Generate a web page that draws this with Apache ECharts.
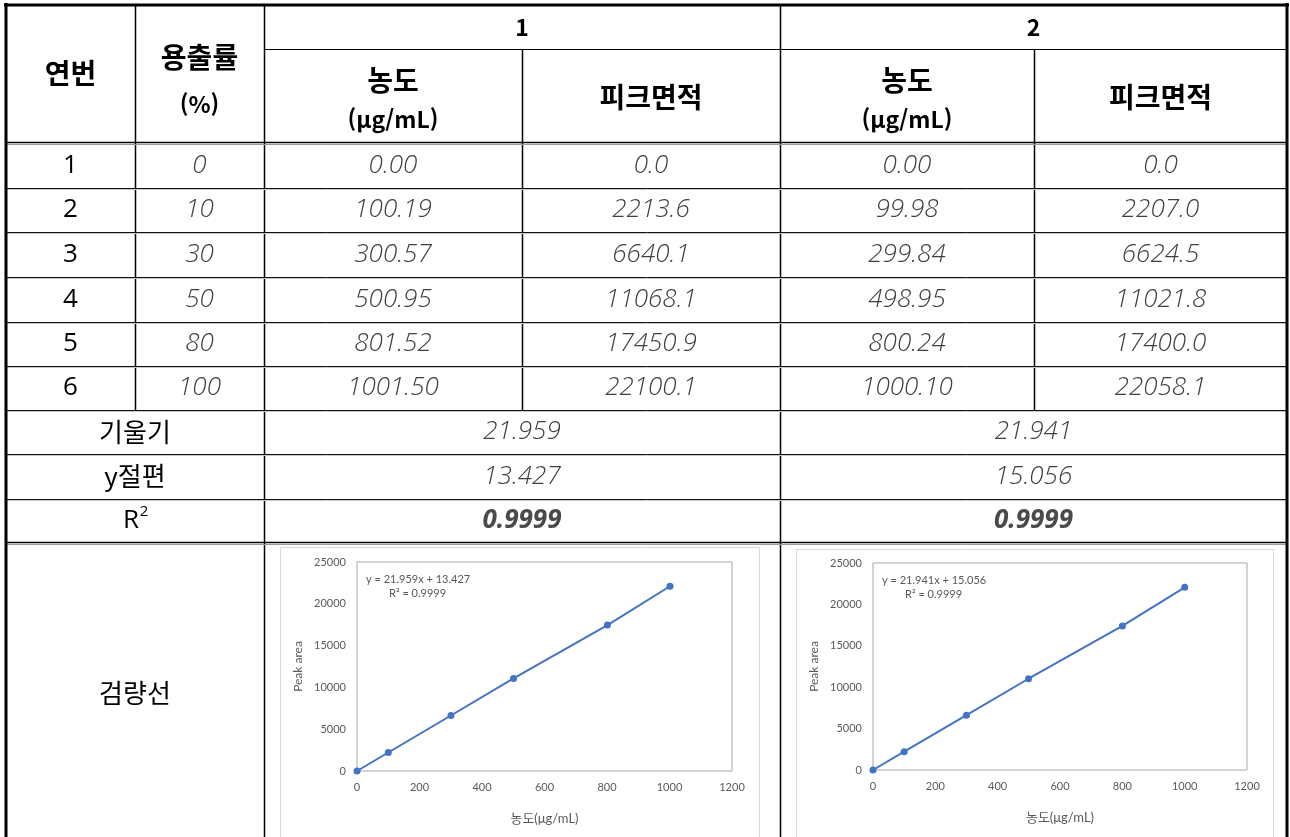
<!DOCTYPE html>
<html lang="ko">
<head>
<meta charset="utf-8">
<title>검량선</title>
<script src="https://cdn.jsdelivr.net/npm/echarts@6/dist/echarts.min.js"></script>
<style>
  html, body { margin: 0; padding: 0; background: #fff; }
  #main { width: 1290px; height: 837px; }
</style>
</head>
<body>
<div id="main"></div>
<script>
// ---- table values ----
const runNo = [1, 2, 3, 4, 5, 6];
const dissolution = [0, 10, 30, 50, 80, 100];
const conc1 = [0.00, 100.19, 300.57, 500.95, 801.52, 1001.50];
const area1 = [0.0, 2213.6, 6640.1, 11068.1, 17450.9, 22100.1];
const conc2 = [0.00, 99.98, 299.84, 498.95, 800.24, 1000.10];
const area2 = [0.0, 2207.0, 6624.5, 11021.8, 17400.0, 22058.1];
const slopes = [21.959, 21.941];
const intercepts = [13.427, 15.056];
const rSquared = [0.9999, 0.9999];

// ---- axis ticks of the calibration plots ----
const xTicks = [0, 200, 400, 600, 800, 1000, 1200];
const yTicks = [0, 5000, 10000, 15000, 20000, 25000];

// ---- layout ----
const colX = [6, 135, 264, 522, 780, 1034, 1287];
const rowLines = [188, 232, 277, 322, 366, 410, 454, 499];
const rowCenters = [166, 210, 254.5, 299.5, 344, 388];
const summaryCenters = [432, 476.5, 521];

const KR = "'Noto Sans CJK KR', 'Noto Sans', sans-serif";
const NUM = "'Open Sans', 'Noto Sans CJK KR', sans-serif";
const CHART_FONT = "Lato, 'Noto Sans CJK KR', sans-serif";
const BLUE = '#4472C4';
const GREY_TXT = '#595959';

const g = [];
function line(x1, y1, x2, y2, w, c) {
  g.push({ type: 'line', silent: true, shape: { x1, y1, x2, y2 },
           style: { stroke: c || '#000', lineWidth: w || 1 } });
}
function text(t, x, y, opt) {
  g.push({ type: 'text', silent: true, style: Object.assign({
    text: t, x, y, align: 'center', verticalAlign: 'middle',
    fontFamily: KR, fontSize: 26, fill: '#000'
  }, opt || {}) });
}
const mid = (a, b) => (a + b) / 2;

// grid lines of the table
line(colX[1] + 0.5, 5, colX[1] + 0.5, 410, 1.5);
line(colX[2] + 0.5, 5, colX[2] + 0.5, 837, 1.5);
line(colX[4] + 0.5, 5, colX[4] + 0.5, 837, 1.5);
line(colX[3] + 0.5, 49, colX[3] + 0.5, 410, 1.5);
line(colX[5] + 0.5, 49, colX[5] + 0.5, 410, 1.5);
line(colX[2], 49.5, colX[6], 49.5, 1.2);
// double rule under the header and above the plots
[142.5, 542.5].forEach(y => {
  line(colX[0], y, colX[6], y, 1.3, '#000');
  line(colX[0], y + 2, colX[6], y + 2, 1, '#9a9a9a');
});
rowLines.forEach(y => {
  line(colX[0], y + 0.5, colX[6], y + 0.5, 1, '#111');
  line(colX[0], y + 1.5, colX[6], y + 1.5, 1, '#c8c8c8');
});
// outer frame
line(6, 3, 6, 837, 3);
line(4, 5, 1289, 5, 3);
line(1287, 3, 1287, 837, 3);

// header
const HB = { fontWeight: 'bold', fontSize: 28 };
const HB_SMALL = { fontWeight: 'bold', fontSize: 23 };
text('연번', mid(colX[0], colX[1]), 73, HB);
text('용출률', mid(colX[1], colX[2]), 57, HB);
text('(%)', mid(colX[1], colX[2]), 104, HB_SMALL);
text('1', mid(colX[2], colX[4]), 27, HB_SMALL);
text('2', mid(colX[4], colX[6]), 27, HB_SMALL);
[[colX[2], colX[3], colX[4]], [colX[4], colX[5], colX[6]]].forEach(([a, b, c]) => {
  text('농도', mid(a, b), 80, HB);
  text('(μg/mL)', mid(a, b), 119, HB_SMALL);
  text('피크면적', mid(b, c), 97, HB);
});

// data rows
const VAL = { fontFamily: NUM, fontStyle: 'italic', fontWeight: 300, fontSize: 26, fill: '#404040' };
runNo.forEach((n, i) => {
  const y = rowCenters[i];
  text(String(n), mid(colX[0], colX[1]), y, { fontFamily: NUM, fontSize: 26 });
  text(String(dissolution[i]), mid(colX[1], colX[2]), y, VAL);
  text(conc1[i].toFixed(2), mid(colX[2], colX[3]), y, VAL);
  text(area1[i].toFixed(1), mid(colX[3], colX[4]), y, VAL);
  text(conc2[i].toFixed(2), mid(colX[4], colX[5]), y, VAL);
  text(area2[i].toFixed(1), mid(colX[5], colX[6]), y, VAL);
});

// regression summary
const labelX = mid(colX[0], colX[2]);
text('기울기', labelX, summaryCenters[0]);
text('y절편', labelX, summaryCenters[1]);
text('R', labelX - 4, summaryCenters[2], { fontFamily: NUM });
text('2', labelX + 9, summaryCenters[2] - 9, { fontFamily: NUM, fontSize: 15 });
[[colX[2], colX[4]], [colX[4], colX[6]]].forEach(([a, b], k) => {
  text(slopes[k].toFixed(3), mid(a, b), summaryCenters[0], VAL);
  text(intercepts[k].toFixed(3), mid(a, b), summaryCenters[1], VAL);
  text(rSquared[k].toFixed(4), mid(a, b), summaryCenters[2],
       Object.assign({}, VAL, { fontWeight: 'bold', fill: '#4a4a4a' }));
});
text('검량선', labelX, 693);

// frames around the two plots
g.push({ type: 'rect', silent: true, shape: { x: 280.5, y: 547.5, width: 479, height: 295 },
         style: { fill: '#fff', stroke: '#d9d9d9', lineWidth: 1 }, z: -1 });
g.push({ type: 'rect', silent: true, shape: { x: 796.5, y: 549.5, width: 477, height: 295 },
         style: { fill: '#fff', stroke: '#d9d9d9', lineWidth: 1 }, z: -1 });

// trendline equations
const grids = [
  { left: 357, top: 562, width: 375, height: 209 },
  { left: 873, top: 563, width: 374, height: 207 }
];
grids.forEach((gr, k) => {
  const eq = 'y = ' + slopes[k].toFixed(3) + 'x + ' + intercepts[k].toFixed(3);
  g.push({ type: 'text', silent: true, z: 10, style: {
    text: eq, x: gr.left + 9, y: gr.top + 17, align: 'left', verticalAlign: 'middle',
    fontFamily: CHART_FONT, fontSize: 11, fill: GREY_TXT } });
  g.push({ type: 'text', silent: true, z: 10, style: {
    text: 'R² = ' + rSquared[k].toFixed(4), x: gr.left + 32, y: gr.top + 31, align: 'left',
    verticalAlign: 'middle', fontFamily: CHART_FONT, fontSize: 11, fill: GREY_TXT } });
});

const plain = v => String(v);
function xAxis(i) {
  return {
    type: 'value', gridIndex: i, min: xTicks[0], max: xTicks[xTicks.length - 1],
    interval: xTicks[1] - xTicks[0],
    name: '농도(μg/mL)', nameLocation: 'middle', nameGap: 41,
    nameTextStyle: { fontFamily: CHART_FONT, fontSize: 13, color: GREY_TXT },
    axisLine: { show: false }, axisTick: { show: false }, splitLine: { show: false },
    axisLabel: { fontFamily: CHART_FONT, fontSize: 11, color: GREY_TXT, margin: 11, formatter: plain }
  };
}
function yAxis(i) {
  return {
    type: 'value', gridIndex: i, min: yTicks[0], max: yTicks[yTicks.length - 1],
    interval: yTicks[1] - yTicks[0],
    name: 'Peak area', nameLocation: 'middle', nameGap: 53,
    nameTextStyle: { fontFamily: CHART_FONT, fontSize: 12, color: GREY_TXT },
    axisLine: { show: false }, axisTick: { show: false }, splitLine: { show: false },
    axisLabel: { fontFamily: CHART_FONT, fontSize: 11, color: GREY_TXT, margin: 11, formatter: plain }
  };
}
function series(i, xs, ys) {
  return {
    type: 'line', xAxisIndex: i, yAxisIndex: i, silent: true, animation: false,
    data: xs.map((x, j) => [x, ys[j]]),
    symbol: 'circle', symbolSize: 7,
    lineStyle: { color: BLUE, width: 2 }, itemStyle: { color: BLUE }
  };
}

const chart = echarts.init(document.getElementById('main'), null, { renderer: 'canvas' });
chart.setOption({
  animation: false,
  backgroundColor: '#fff',
  grid: grids.map(gr => Object.assign({ show: true, borderColor: '#a6a6a6', borderWidth: 1,
                                        backgroundColor: 'transparent' }, gr)),
  xAxis: [xAxis(0), xAxis(1)],
  yAxis: [yAxis(0), yAxis(1)],
  series: [series(0, conc1, area1), series(1, conc2, area2)],
  graphic: g
});
</script>
</body>
</html>
